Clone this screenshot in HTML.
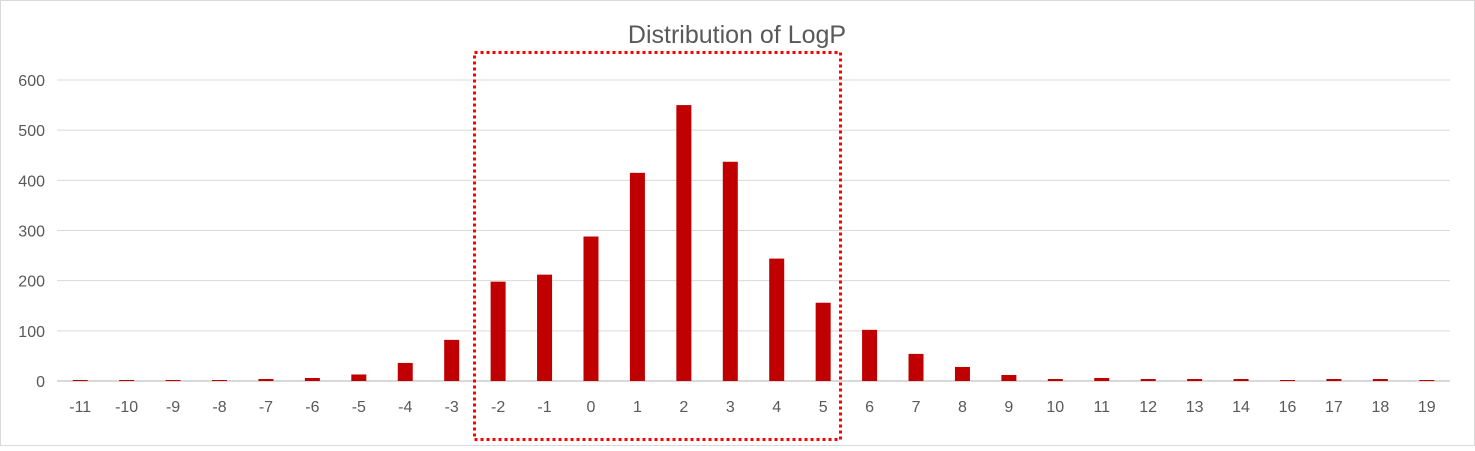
<!DOCTYPE html>
<html><head><meta charset="utf-8"><style>
body{margin:0;background:#fff;font-family:"Liberation Sans",sans-serif}
svg text{font-family:"Liberation Sans",sans-serif;fill:#595959}
</style></head><body>
<svg width="1475" height="446" xmlns="http://www.w3.org/2000/svg">
<rect x="0.5" y="0.5" width="1474" height="445" fill="#fff" stroke="#d9d9d9"/>
<text x="737" y="43" font-size="25" text-anchor="middle">Distribution of LogP</text>
<g id="grid"></g><g id="bars"></g><g id="xl"></g>
<rect x="474.5" y="52.5" width="366" height="387" fill="none" stroke="#ff0000" stroke-width="3" stroke-dasharray="3,3"/>
</svg>
<script>
const categories=["-11","-10","-9","-8","-7","-6","-5","-4","-3","-2","-1","0","1","2","3","4","5","6","7","8","9","10","11","12","13","14","16","17","18","19"];
const counts=[2,2,2,2,4,6,13,36,82,198,212,288,415,550,437,244,156,102,54,28,12,4,6,4,4,4,2,4,4,2];
const yTicks=[0,100,200,300,400,500,600];
const NS="http://www.w3.org/2000/svg";
const x0=57,x1=1450,yb=381,yt=80,ymax=600;
const step=(x1-x0)/categories.length;
const xc=i=>x0+step*(i+0.5);
const ys=v=>yb-(v/ymax)*(yb-yt);
function mk(t,a){const e=document.createElementNS(NS,t);for(const k in a)e.setAttribute(k,a[k]);return e;}
const grid=document.getElementById('grid'),bars=document.getElementById('bars'),xl=document.getElementById('xl');
yTicks.forEach(v=>{
 const l=mk('line',{x1:x0,x2:x1,y1:ys(v),y2:ys(v),stroke:'#d9d9d9','stroke-width':v===0?2:1});
 
 
 grid.appendChild(l);
 const t=mk('text',{x:45,y:ys(v)+6,'font-size':16,'text-anchor':'end'});
 t.textContent=v;
 
 
 grid.appendChild(t);
});
categories.forEach((c,i)=>{
 const w=15;
 const r=mk('rect',{x:xc(i)-w/2,y:ys(counts[i]),width:w,height:yb-ys(counts[i]),fill:'#c00000'});
 
 
 bars.appendChild(r);
 const t=mk('text',{x:xc(i),y:412,'font-size':16,'text-anchor':'middle'});
 t.textContent=c;
 
 
 xl.appendChild(t);
});
</script>
</body></html>
